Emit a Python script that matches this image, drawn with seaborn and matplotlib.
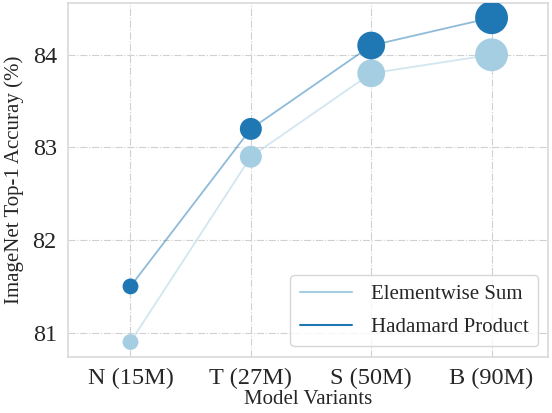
import matplotlib
matplotlib.use("Agg")
import matplotlib.pyplot as plt
import seaborn as sns
import pandas as pd
from matplotlib.lines import Line2D

variants = ["N (15M)", "T (27M)", "S (50M)", "B (90M)"]
sum_acc = [80.9, 82.9, 83.8, 84.0]
hadamard_acc = [81.5, 83.2, 84.1, 84.4]
marker_sizes = [130, 250, 400, 560]

sns.set_theme(style="whitegrid")
plt.rcParams["font.family"] = ["Liberation Serif", "DejaVu Serif"]

light = "#a6cee3"
dark = "#1f78b4"

df = pd.DataFrame({
    "Model": variants * 2,
    "pos": list(range(4)) * 2,
    "acc": sum_acc + hadamard_acc,
    "Method": ["Elementwise Sum"] * 4 + ["Hadamard Product"] * 4,
    "size": marker_sizes * 2,
})

fig, ax = plt.subplots(figsize=(5.52, 4.13), dpi=100)

palette = {"Elementwise Sum": light, "Hadamard Product": dark}
sns.lineplot(data=df, x="pos", y="acc", hue="Method", palette=palette,
             alpha=0.5, linewidth=1.3, legend=False, ax=ax)
for method, color in palette.items():
    sub = df[df["Method"] == method]
    ax.scatter(sub["pos"], sub["acc"], s=sub["size"], color=color, zorder=3,
               edgecolors="none")

ax.set_xticks(range(4))
ax.set_xticklabels(variants)
ax.set_yticks([81, 82, 83, 84])
ax.set_xlim(-0.52, 3.47)
ax.set_ylim(80.74, 84.56)
ax.tick_params(labelsize=17.5, pad=2)
ax.set_xlabel("Model Variants", fontsize=15, labelpad=1)
ax.set_ylabel("ImageNet Top-1 Accuray (%)", fontsize=15, labelpad=6)
ax.grid(True, linestyle="-.", color="#d0d0d0", linewidth=0.8)
for s in ax.spines.values():
    s.set_color("#d9d9d9")
    s.set_linewidth(1.2)

handles = [Line2D([0], [0], color=light, lw=1.5),
           Line2D([0], [0], color=dark, lw=1.5)]
ax.legend(handles, ["Elementwise Sum", "Hadamard Product"], loc="lower right",
          fontsize=15, handlelength=2.5, handletextpad=0.9, frameon=True,
          borderaxespad=0.5, borderpad=0.45, labelspacing=0.65)

fig.subplots_adjust(left=0.123, right=0.993, top=0.993, bottom=0.136)
plt.savefig("out.png", dpi=100)
